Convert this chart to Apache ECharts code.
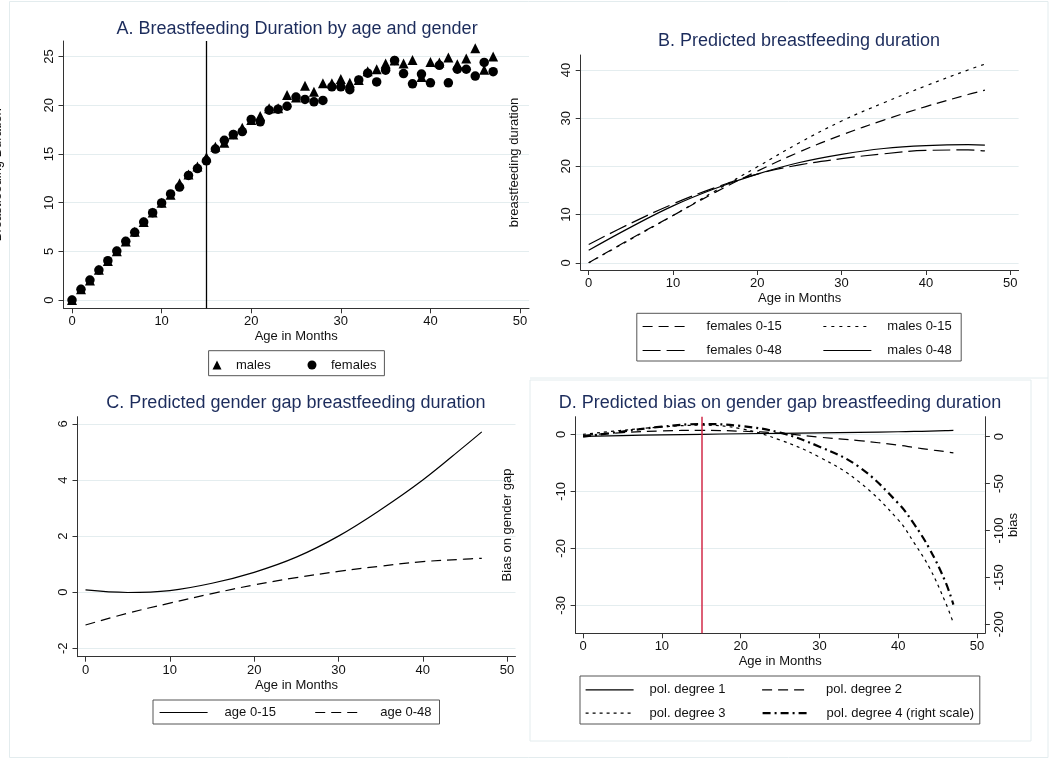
<!DOCTYPE html>
<html><head><meta charset="utf-8">
<script src="https://cdn.jsdelivr.net/npm/echarts@6/dist/echarts.min.js"></script>
<style>html,body{margin:0;padding:0;background:#fff}#c{width:1050px;height:759px}</style>
</head><body><div id="c"></div>
<script>
// ---------- DATA ----------
const ages = [0,1,2,3,4,5,6,7,8,9,10,11,12,13,14,15,16,17,18,19,20,21,22,23,24,25,26,27,28,29,30,31,32,33,34,35,36,37,38,39,40,41,42,43,44,45,46,47];
const malesA = [0,1.1,2.0,3.1,4.0,5.0,6.0,7.0,8.0,9.0,10.0,10.8,12.0,12.9,13.7,14.65,15.75,16.15,17.0,17.7,18.5,18.9,19.7,19.7,21.06,20.8,22.0,21.4,22.26,22.26,22.7,22.3,22.6,23.5,23.7,24.3,24.6,24.3,24.66,22.9,24.45,24.4,24.9,24.2,24.8,25.85,23.65,25.0];
const femalesA = [0,1.1,2.05,3.08,4.04,5.03,6.03,6.95,8.0,8.97,9.97,10.9,11.6,12.8,13.5,14.3,15.5,16.4,17.0,17.3,18.55,18.3,19.5,19.6,19.9,20.85,20.6,20.35,20.5,21.9,21.9,21.6,22.6,23.3,22.4,23.6,24.6,23.25,22.2,23.2,22.3,24.1,22.3,23.7,23.7,23.0,24.4,23.45];
const cutoffAge = 15;

const ageB = [0,5,10,15,20,25,30,35,40,45,47];
const fem015 = [0,5.0,9.8,14.6,19.0,23.0,26.5,29.6,32.4,34.9,35.8];
const mal015 = [0,4.9,9.8,14.9,19.9,24.9,29.4,33.2,36.7,40.0,41.2];
const fem048 = [3.8,8.2,12.2,15.6,18.4,20.3,21.6,22.6,23.3,23.4,23.2];
const mal048 = [2.6,7.4,11.8,15.4,18.4,20.8,22.5,23.7,24.3,24.5,24.4];

const ageC = [0,5,10,15,20,25,30,35,40,45,47];
const gap015 = [0.08,-0.01,0.06,0.32,0.71,1.25,2.0,2.94,4.0,5.22,5.72];
const gap048 = [-1.17,-0.75,-0.39,-0.05,0.26,0.52,0.74,0.93,1.09,1.18,1.21];

const ageD = [0,5,10,15,20,25,30,35,40,42,44,46,47];
const deg1 = [-0.35,-0.22,-0.1,0.0,0.1,0.18,0.25,0.35,0.45,0.5,0.57,0.65,0.7];
const deg2 = [-0.2,0.3,0.6,0.7,0.55,0.2,-0.5,-1.1,-1.9,-2.3,-2.7,-3.05,-3.26];
const deg3 = [0,0.7,1.3,1.6,1.0,-1.0,-4.0,-8.3,-15.0,-19.0,-23.5,-29.5,-33.1];
const deg4 = [0,5.5,10.7,13.5,11.4,4.3,-10.7,-32,-71,-93,-120,-155,-179];

const xTicks = [0,10,20,30,40,50];
const yTicksA = [0,5,10,15,20,25];
const yTicksB = [0,10,20,30,40];
const yTicksC = [-2,0,2,4,6];
const yTicksDL = [-30,-20,-10,0];
const yTicksDR = [-200,-150,-100,-50,0];

// ---------- STYLE ----------
const FONT = 'Liberation Sans, Arial, sans-serif';
const AX = '#333';
const GRID = '#e4edef';
const TITLE = '#1c2c5c';
const pair = (xs, ys) => xs.map((x, i) => [x, ys[i]]);

function xAxis(gi) {
  return {
    type: 'value', gridIndex: gi, min: -0.95, max: 51,
    name: 'Age in Months', nameLocation: 'middle', nameGap: 22,
    nameTextStyle: {fontSize: 13, color: '#111', fontFamily: FONT},
    axisLine: {onZero: false, lineStyle: {color: AX, width: 1}},
    axisTick: {customValues: xTicks, length: 5, lineStyle: {color: AX}},
    axisLabel: {customValues: xTicks, fontSize: 13, color: '#111', margin: 7, fontFamily: FONT},
    splitLine: {show: false}
  };
}
function yAxis(gi, min, max, ticks, extra) {
  return Object.assign({
    type: 'value', gridIndex: gi, min: min, max: max,
    nameLocation: 'middle', nameRotate: 90, nameGap: 60,
    nameTextStyle: {fontSize: 13, color: '#111', fontFamily: FONT},
    axisLine: {show: true, onZero: false, lineStyle: {color: AX, width: 1}},
    axisTick: {show: true, customValues: ticks, length: 5, lineStyle: {color: AX}},
    axisLabel: {customValues: ticks, rotate: 90, fontSize: 13, color: '#111', margin: 8, fontFamily: FONT},
    splitLine: {show: true, lineStyle: {color: GRID, width: 1}}
  }, extra || {});
}
function lineSeries(name, xs, ys, xi, yi, dash, width) {
  return {
    name: name, type: 'line', xAxisIndex: xi, yAxisIndex: yi,
    data: pair(xs, ys), symbol: 'none', showSymbol: false, smooth: 0.4,
    lineStyle: {color: '#000', width: width || 1.2, type: dash || 'solid'},
    itemStyle: {color: '#000'}, z: 3
  };
}
function lineLegend(names, left, top, gap, pad, widths) {
  return {
    data: names.map((n, i) => ({name: n, lineStyle: {width: widths ? widths[i] : 1.2}})),
    left: left, top: top, orient: 'horizontal', padding: 0,
    itemWidth: 48, itemHeight: 12, itemGap: gap, selectedMode: false,
    itemStyle: {opacity: 0},
    textStyle: {fontSize: 13, color: '#111', fontFamily: FONT, padding: [0, 0, 0, pad]}
  };
}

const option = {
  animation: false,
  backgroundColor: '#fff',
  textStyle: {fontFamily: FONT},
  title: [
    {text: 'A. Breastfeeding Duration by age and gender', left: 297, top: 20, textAlign: 'center', padding: 0,
     textStyle: {fontSize: 18, fontWeight: 'normal', color: TITLE, fontFamily: FONT}},
    {text: 'B. Predicted breastfeeding duration', left: 799, top: 32, textAlign: 'center', padding: 0,
     textStyle: {fontSize: 18, fontWeight: 'normal', color: TITLE, fontFamily: FONT}},
    {text: 'C. Predicted gender gap breastfeeding duration', left: 296, top: 394, textAlign: 'center', padding: 0,
     textStyle: {fontSize: 18, fontWeight: 'normal', color: TITLE, fontFamily: FONT}},
    {text: 'D. Predicted bias on gender gap breastfeeding duration', left: 780, top: 394, textAlign: 'center', padding: 0,
     textStyle: {fontSize: 18, fontWeight: 'normal', color: TITLE, fontFamily: FONT}}
  ],
  grid: [
    {left: 63.5, top: 41, width: 465.5, height: 267.3, outerBoundsMode: 'none', containLabel: false},
    {left: 580.7, top: 55, width: 437.9, height: 215, outerBoundsMode: 'none', containLabel: false},
    {left: 77.5, top: 416.7, width: 438, height: 240, outerBoundsMode: 'none', containLabel: false},
    {left: 575.6, top: 416.7, width: 409.3, height: 216.6, outerBoundsMode: 'none', containLabel: false}
  ],
  xAxis: [xAxis(0), xAxis(1), xAxis(2), xAxis(3)],
  yAxis: [
    yAxis(0, -0.85, 26.6, yTicksA, {name: 'Breastfeeding Duration'}),
    yAxis(1, -1.5, 43.1, yTicksB, {name: 'breastfeeding duration'}),
    yAxis(2, -2.3, 6.26, yTicksC, {}),
    yAxis(3, -34.9, 3.09, yTicksDL, {name: 'Bias on gender gap', nameGap: 62}),
    yAxis(3, -209.6, 21.3, yTicksDR, {name: 'bias', position: 'right', nameGap: 18, nameRotate: 90,
      splitLine: {show: false}, alignTicks: false})
  ],
  legend: [
    {data: ['males', 'females'], left: 212.5, top: 358.5, orient: 'horizontal', padding: 0,
     itemWidth: 9, itemHeight: 9, itemGap: 36.8, selectedMode: false,
     itemStyle: {opacity: 1},
     textStyle: {fontSize: 13, color: '#111', fontFamily: FONT, padding: [0, 0, 0, 9.5]}},
    lineLegend(['females 0-15', 'males 0-15'], 642, 320, 41, 11),
    lineLegend(['females 0-48', 'males 0-48'], 642, 344, 41, 11),
    lineLegend(['age 0-15', 'age 0-48'], 159, 706, 38.7, 12),
    lineLegend(['pol. degree 1', 'pol. degree 2'], 585, 683.3, 36, 11),
    lineLegend(['pol. degree 3', 'pol. degree 4 (right scale)'], 585, 706.7, 36, 11, [1.2, 2.2])
  ],
  series: [
    {name: 'males', type: 'scatter', xAxisIndex: 0, yAxisIndex: 0, data: pair(ages, malesA),
     symbol: 'triangle', symbolSize: 10, itemStyle: {color: '#000', opacity: 1}, z: 3,
     markLine: {silent: true, symbol: ['none', 'none'], label: {show: false},
       lineStyle: {color: '#000', width: 1.3, type: 'solid'}, data: [{xAxis: cutoffAge}]}},
    {name: 'females', type: 'scatter', xAxisIndex: 0, yAxisIndex: 0, data: pair(ages, femalesA),
     symbol: 'circle', symbolSize: 9.5, itemStyle: {color: '#000', opacity: 1}, z: 4},

    lineSeries('females 0-15', ageB, fem015, 1, 1, [10, 6]),
    lineSeries('males 0-15', ageB, mal015, 1, 1, [3, 5]),
    lineSeries('females 0-48', ageB, fem048, 1, 1, [18, 6]),
    lineSeries('males 0-48', ageB, mal048, 1, 1, 'solid'),

    lineSeries('age 0-15', ageC, gap015, 2, 2, 'solid'),
    lineSeries('age 0-48', ageC, gap048, 2, 2, [10, 6]),

    Object.assign(lineSeries('pol. degree 1', ageD, deg1, 3, 3, 'solid'), {
      markLine: {silent: true, symbol: ['none', 'none'], label: {show: false},
        lineStyle: {color: '#d22a48', width: 1.5, type: 'solid'}, data: [{xAxis: cutoffAge}]}}),
    lineSeries('pol. degree 2', ageD, deg2, 3, 3, [10, 6]),
    lineSeries('pol. degree 3', ageD, deg3, 3, 3, [3, 4]),
    lineSeries('pol. degree 4 (right scale)', ageD, deg4, 3, 4, [8, 4, 2, 4], 2.2)
  ],
  graphic: [
    {type: 'rect', shape: {x: 9.5, y: 1.5, width: 1038.5, height: 756}, style: {fill: 'none', stroke: '#e3ecee', lineWidth: 1}, silent: true, z: -10},
    {type: 'line', shape: {x1: 530, y1: 378, x2: 1048, y2: 378}, style: {stroke: '#e3ecee', lineWidth: 1}, silent: true, z: -10},
    {type: 'rect', shape: {x: 530, y: 380, width: 501, height: 361}, style: {fill: 'none', stroke: '#e3ecee', lineWidth: 1}, silent: true, z: -10},
    {type: 'rect', shape: {x: 208.6, y: 350.7, width: 175.8, height: 25}, style: {fill: 'none', stroke: '#555', lineWidth: 1}, silent: true},
    {type: 'rect', shape: {x: 636.8, y: 313.3, width: 324.4, height: 47.7}, style: {fill: 'none', stroke: '#555', lineWidth: 1}, silent: true},
    {type: 'rect', shape: {x: 153, y: 700, width: 286.5, height: 24}, style: {fill: 'none', stroke: '#555', lineWidth: 1}, silent: true},
    {type: 'rect', shape: {x: 580, y: 676, width: 399.8, height: 48}, style: {fill: 'none', stroke: '#555', lineWidth: 1}, silent: true}
  ]
};
const chart = echarts.init(document.getElementById('c'), null, {renderer: 'canvas'});
chart.setOption(option);
</script></body></html>
